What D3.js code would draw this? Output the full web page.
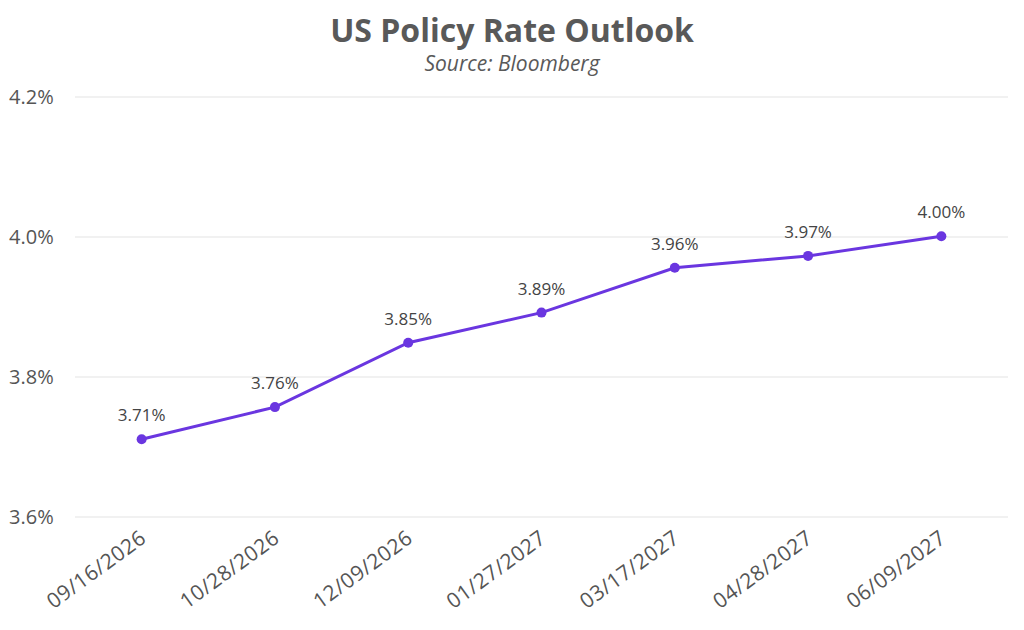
<!DOCTYPE html>
<html lang="en">
<head>
  <meta charset="utf-8">
  <title>US Policy Rate Outlook</title>
  <script src="https://d3js.org/d3.v7.min.js"></script>
  <style>
    html, body { margin: 0; padding: 0; background: #fff; }
    svg { display: block; font-family: "Open Sans", "Lato", sans-serif; }
    .grid line { stroke: #e3e3e3; stroke-width: 1.2px; }
    .tick-y { font-size: 20px; fill: #555; }
    .tick-x { font-size: 21px; fill: #555; letter-spacing: 0.5px; }
    .label { font-size: 17px; fill: #444; text-anchor: middle; }
  </style>
</head>
<body>
  <svg width="1024" height="630"></svg>
  <script>
    // Meeting dates and implied policy rate (%)
    const dates = ["09/16/2026", "10/28/2026", "12/09/2026", "01/27/2027", "03/17/2027", "04/28/2027", "06/09/2027"];
    const rates = [3.711, 3.757, 3.849, 3.892, 3.956, 3.973, 4.001];
    const yTicks = [3.6, 3.8, 4.0, 4.2];

    const svg = d3.select("svg");
    const margin = { left: 75, right: 16, top: 97, bottom: 113 };
    const width = 1024, height = 630;

    const x = d3.scalePoint()
      .domain(dates)
      .range([margin.left, width - margin.right])
      .padding(0.5);

    const y = d3.scaleLinear()
      .domain([3.6, 4.2])
      .range([height - margin.bottom, margin.top]);

    // title
    svg.append("text")
      .attr("x", 512).attr("y", 42)
      .attr("text-anchor", "middle")
      .style("font-size", "32px").style("font-weight", "bold").style("fill", "#595959")
      .text("US Policy Rate Outlook");
    svg.append("text")
      .attr("x", 512).attr("y", 71)
      .attr("text-anchor", "middle")
      .style("font-size", "21px").style("font-style", "italic").style("fill", "#595959")
      .text("Source: Bloomberg");

    // gridlines
    svg.append("g").attr("class", "grid")
      .selectAll("line")
      .data(yTicks)
      .join("line")
        .attr("x1", margin.left).attr("x2", width - margin.right)
        .attr("y1", d => y(d)).attr("y2", d => y(d));

    svg.append("g")
      .selectAll("text")
      .data(yTicks)
      .join("text")
        .attr("class", "tick-y")
        .attr("x", 9).attr("y", d => y(d))
        .attr("dy", "0.35em")
        .text(d => d3.format(".1f")(d) + "%");

    // x labels, rotated
    svg.append("g")
      .selectAll("text")
      .data(dates)
      .join("text")
        .attr("class", "tick-x")
        .attr("text-anchor", "end")
        .attr("transform", d => `translate(${x(d) + 6},${height - margin.bottom + 24}) rotate(-36)`)
        .text(d => d);

    const pts = dates.map((d, i) => ({ date: d, v: rates[i] }));

    svg.append("path")
      .datum(pts)
      .attr("fill", "none")
      .attr("stroke", "#6a36e0")
      .attr("stroke-width", 3)
      .attr("d", d3.line().x(d => x(d.date)).y(d => y(d.v)));

    svg.append("g")
      .selectAll("circle")
      .data(pts)
      .join("circle")
        .attr("cx", d => x(d.date)).attr("cy", d => y(d.v))
        .attr("r", 5)
        .attr("fill", "#6a36e0");

    svg.append("g")
      .selectAll("text")
      .data(pts)
      .join("text")
        .attr("class", "label")
        .attr("x", d => x(d.date)).attr("y", d => y(d.v) - 18)
        .text(d => d3.format(".2f")(d.v) + "%");
  </script>
</body>
</html>
